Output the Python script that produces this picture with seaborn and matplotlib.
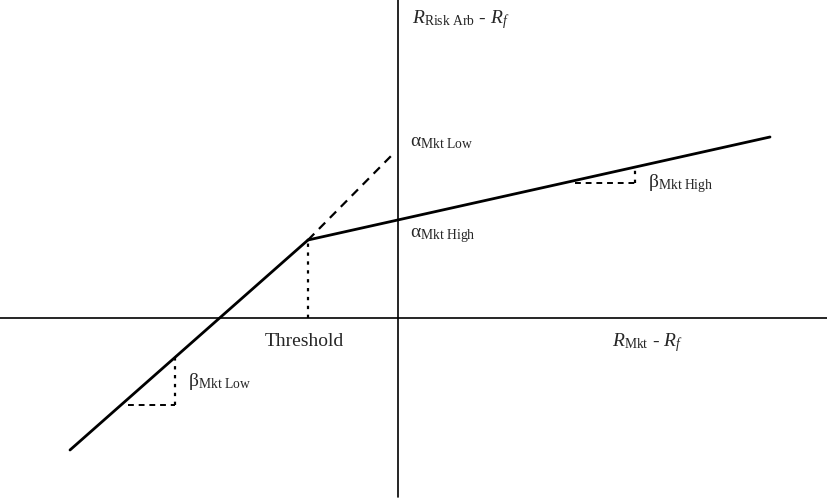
import matplotlib
matplotlib.use("Agg")
import matplotlib.pyplot as plt
import seaborn as sns
import pandas as pd

# Piecewise-linear payoff of risk arbitrage vs market (excess returns)
low_x = [-3.28, -0.90]          # low-market regime segment
low_y = [-1.32, 0.78]
high_x = [-0.90, 3.72]          # high-market regime segment
high_y = [0.78, 1.81]
ext_x = [-0.90, -0.03]          # dashed extension to alpha (low)
ext_y = [0.78, 1.66]
threshold_x = -0.90
alpha_low = 1.62
alpha_high = 0.98

# slope triangles
beta_low_tri_x = [-2.70, -2.23, -2.23]
beta_low_tri_y = [-0.87, -0.87, -0.39]
beta_high_tri_x = [1.77, 2.37, 2.37]
beta_high_tri_y = [1.35, 1.35, 1.51]

sns.set_style("white")
plt.rcParams['mathtext.fontset'] = 'custom'
plt.rcParams['mathtext.rm'] = 'Liberation Serif'
plt.rcParams['mathtext.it'] = 'Liberation Serif:italic'
plt.rcParams['font.family'] = ['Liberation Serif', 'DejaVu Serif']

fig = plt.figure(figsize=(8.28, 4.99), dpi=100)
ax = fig.add_axes([0, 0, 1, 1])
ax.set_xlim(-3.98, 4.30)
ax.set_ylim(-1.81, 3.18)
ax.axis('off')

# axes
ax.axhline(0, color='black', lw=1.2)
ax.plot([0, 0], [-1.79, 3.18], color='black', lw=1.2)

# main lines
segs = pd.DataFrame({'x': low_x, 'y': low_y})
sns.lineplot(data=segs, x='x', y='y', sort=False, color='black', lw=2.0, ax=ax)
segs = pd.DataFrame({'x': high_x, 'y': high_y})
sns.lineplot(data=segs, x='x', y='y', sort=False, color='black', lw=2.0, ax=ax)
segs = pd.DataFrame({'x': ext_x, 'y': ext_y})
sns.lineplot(data=segs, x='x', y='y', sort=False, color='black', lw=1.6,
             linestyle=(0, (4, 3)), ax=ax)

# threshold drop line
ax.plot([threshold_x, threshold_x], [0, low_y[1]], color='black', lw=1.6, linestyle=(0, (1.5, 2.5)))

# slope triangles
ax.plot(beta_low_tri_x[:2], beta_low_tri_y[:2], color='black', lw=1.4, linestyle=(0, (3, 2.5)))
ax.plot(beta_low_tri_x[1:], beta_low_tri_y[1:], color='black', lw=1.6, linestyle=(0, (1.5, 2.5)))
ax.plot(beta_high_tri_x[:2], beta_high_tri_y[:2], color='black', lw=1.4, linestyle=(0, (3, 2.5)))
ax.plot(beta_high_tri_x[1:], beta_high_tri_y[1:], color='black', lw=1.6, linestyle=(0, (1.5, 2.5)))

fs = 14
ax.text(0.14, 3.10, r'$R_{\mathrm{Risk\ Arb}}$ - $R_f$', fontsize=fs, va='top', ha='left')
ax.text(0.12, alpha_low + 0.22, r'$\mathrm{\alpha}_{\mathrm{Mkt\ Low}}$', fontsize=fs, va='top', ha='left')
ax.text(0.12, alpha_high - 0.06, r'$\mathrm{\alpha}_{\mathrm{Mkt\ High}}$', fontsize=fs, va='top', ha='left')
ax.text(2.50, beta_high_tri_y[2] - 0.05, r'$\mathrm{\beta}_{\mathrm{Mkt\ High}}$', fontsize=fs, va='top', ha='left')
ax.text(-2.10, beta_low_tri_y[2] - 0.14, r'$\mathrm{\beta}_{\mathrm{Mkt\ Low}}$', fontsize=fs, va='top', ha='left')
ax.text(-1.33, -0.15, 'Threshold', fontsize=fs, va='top', ha='left')
ax.text(2.14, -0.13, r'$R_{\mathrm{Mkt}}$ - $R_f$', fontsize=fs, va='top', ha='left')

plt.savefig("out.png", dpi=100)
